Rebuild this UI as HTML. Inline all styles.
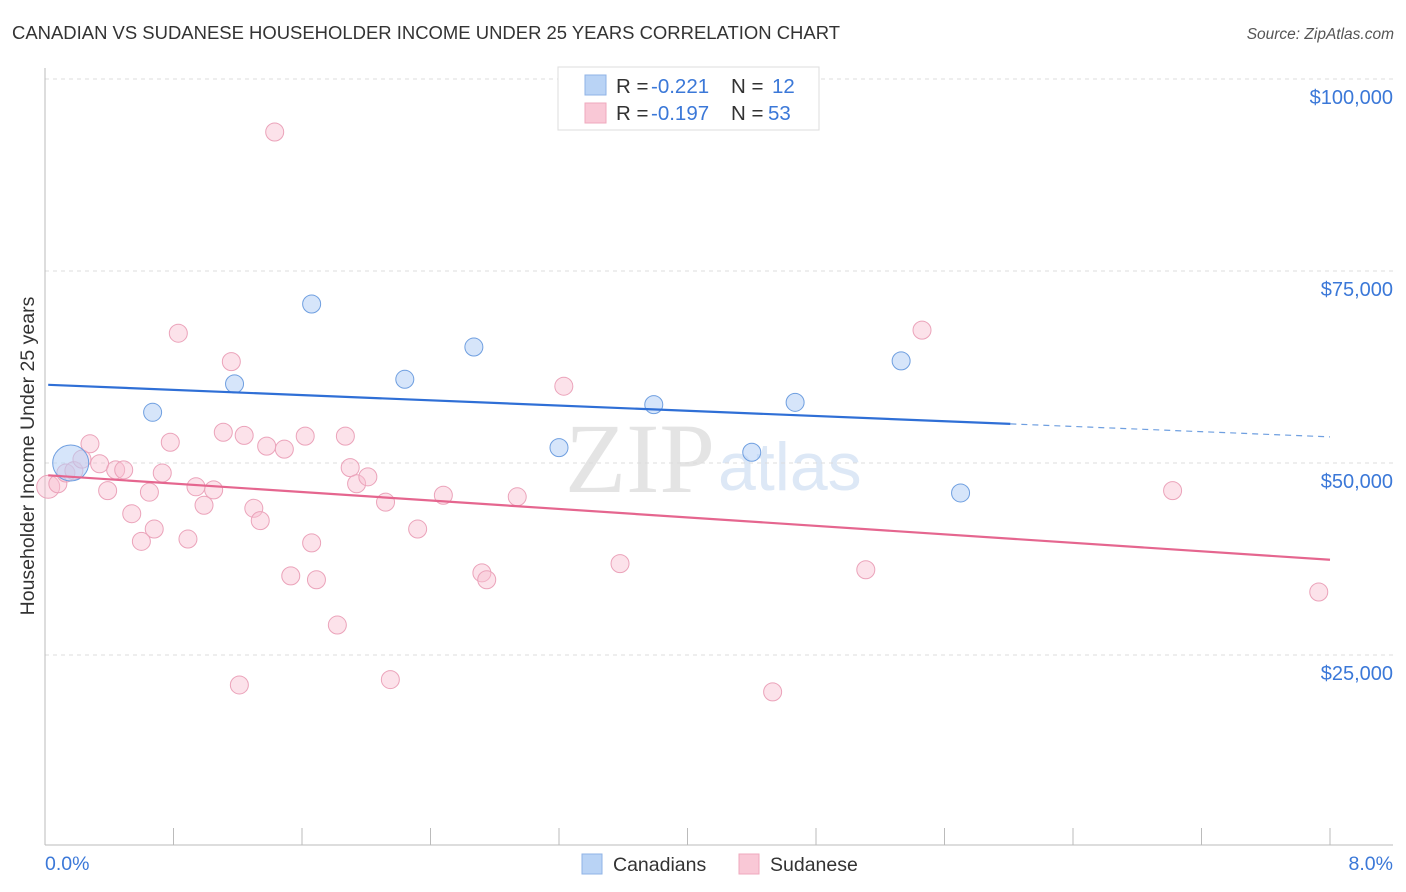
<!DOCTYPE html>
<html><head><meta charset="utf-8"><style>
body{margin:0;background:#fff;font-family:"Liberation Sans",sans-serif}
svg{display:block}
</style></head><body>
<svg width="1406" height="892" xmlns="http://www.w3.org/2000/svg" id="chart">
<text x="12" y="39" font-size="18.6" fill="#333" textLength="828" lengthAdjust="spacingAndGlyphs">CANADIAN VS SUDANESE HOUSEHOLDER INCOME UNDER 25 YEARS CORRELATION CHART</text>
<text x="1394" y="39" font-size="15.5" fill="#555" font-style="italic" text-anchor="end">Source: ZipAtlas.com</text>
<text x="715" y="492" font-size="100" fill="#e4e4e4" font-family="Liberation Serif,serif" text-anchor="end">ZIP</text>
<text x="718" y="490" font-size="68" fill="#dde8f6">atlas</text>
<g id="grid"></g>
<g id="axes"></g>
<g id="marks"></g>
<text transform="translate(34,456) rotate(-90)" font-size="19.5" fill="#333" text-anchor="middle">Householder Income Under 25 years</text>
<text x="45" y="870" font-size="19.5" fill="#3b78d8">0.0%</text>
<text x="1393" y="870" font-size="19.5" fill="#3b78d8" text-anchor="end">8.0%</text>
<g>
<rect x="558" y="67" width="261" height="63" fill="#fff" stroke="#ddd"/>
<rect x="585" y="75" width="21" height="20" fill="#b9d3f5" stroke="#8fb3e6"/>
<rect x="585" y="103" width="21" height="20" fill="#f9c8d6" stroke="#efa9bd"/>
<text x="616" y="93" font-size="20.5" fill="#333">R = <tspan x="651" fill="#3b78d8">-0.221</tspan><tspan x="731">N = </tspan><tspan x="772" fill="#3b78d8">12</tspan></text>
<text x="616" y="120" font-size="20.5" fill="#333">R = <tspan x="651" fill="#3b78d8">-0.197</tspan><tspan x="731">N = </tspan><tspan x="768" fill="#3b78d8">53</tspan></text>
</g>
<g>
<rect x="582" y="854" width="20" height="20" fill="#b9d3f5" stroke="#8fb3e6"/>
<text x="613" y="871" font-size="19.5" fill="#333">Canadians</text>
<rect x="739" y="854" width="20" height="20" fill="#f9c8d6" stroke="#efa9bd"/>
<text x="770" y="871" font-size="19.5" fill="#333">Sudanese</text>
</g>
</svg>
<script>
const yTicks=[100,75,50,25];
const yTickLabels=["$100,000","$75,000","$50,000","$25,000"];
const canX=[0.16,0.67,1.18,1.66,2.24,2.67,3.20,3.79,4.40,4.67,5.33,5.70];
const canY=[50.0,56.6,60.3,70.7,60.9,65.1,52.0,57.6,51.4,57.9,63.3,46.1];
const sudX=[0.02,0.08,0.13,0.18,0.23,0.28,0.34,0.39,0.44,0.49,0.54,0.60,0.65,0.68,0.73,0.78,0.83,0.89,0.94,0.99,1.05,1.16,1.11,1.21,1.24,1.30,1.34,1.38,1.43,1.49,1.53,1.62,1.66,1.69,1.82,1.87,1.90,1.94,2.01,2.12,2.15,2.32,2.48,2.72,2.75,2.94,3.23,3.58,4.53,5.11,5.46,7.02,7.93];
const sudY=[46.9,47.3,48.7,49.0,50.5,52.5,49.9,46.4,49.1,49.1,43.4,39.8,46.2,41.4,48.7,52.7,66.9,40.1,46.9,44.5,46.5,63.2,54.0,21.1,53.6,44.1,42.5,52.2,93.1,51.8,35.3,53.5,39.6,34.8,28.9,53.5,49.4,47.3,48.2,44.9,21.8,41.4,45.8,35.7,34.8,45.6,60.0,36.9,20.2,36.1,67.3,46.4,33.2];
const canTrend=[60.2,53.4];
const sudTrend=[48.4,37.4];
const canSolidEnd=6.01;

const NS="http://www.w3.org/2000/svg";
const sx=x=>45+x/8*1285;
const sy=v=>79+(100-v)/25*192;
function mk(tag,attrs,parent){const e=document.createElementNS(NS,tag);for(const k in attrs)e.setAttribute(k,attrs[k]);parent.appendChild(e);return e;}
const grid=document.getElementById('grid'),axes=document.getElementById('axes'),marks=document.getElementById('marks');
yTicks.forEach((t,i)=>{
 const l=mk('line',{x1:45,x2:1393,y1:sy(t),y2:sy(t),stroke:'#ddd','stroke-dasharray':'4,4'},grid);
 
 
 const tx=mk('text',{x:1393,y:sy(t)+25,'font-size':20,fill:'#3b78d8','text-anchor':'end'},grid);
 tx.textContent=yTickLabels[i];
 
 
});
const ya=mk('line',{x1:45,x2:45,y1:68,y2:845,stroke:'#bbb'},axes);


const xa=mk('line',{x1:45,x2:1393,y1:845,y2:845,stroke:'#bbb'},axes);


for(let i=1;i<=10;i++){
 const t=mk('line',{x1:sx(i*0.8),x2:sx(i*0.8),y1:828,y2:845,stroke:'#bbb'},axes);
 
 
}
sudX.forEach((x,i)=>{
 const c=mk('circle',{cx:sx(x),cy:sy(sudY[i]),r:i===0?11.5:9,fill:'rgba(248,190,208,0.45)',stroke:'#eba3ba','stroke-width':1},marks);
 
 
});
canX.forEach((x,i)=>{
 const c=mk('circle',{cx:sx(x),cy:sy(canY[i]),r:i===0?18:9,fill:'rgba(180,208,245,0.55)',stroke:'#6f9fe0','stroke-width':1},marks);
 
 
});
const cv=x=>canTrend[0]+(canTrend[1]-canTrend[0])*x/8;
const l1=mk('line',{x1:sx(0.02),y1:sy(cv(0.02)),x2:sx(canSolidEnd),y2:sy(cv(canSolidEnd)),stroke:'#2f6fd6','stroke-width':2.2},marks);


const l2=mk('line',{x1:sx(canSolidEnd),y1:sy(cv(canSolidEnd)),x2:sx(8),y2:sy(cv(8)),stroke:'#6f9fe0','stroke-width':1.2,'stroke-dasharray':'6,5'},marks);


const l3=mk('line',{x1:sx(0.02),y1:sy(sudTrend[0]),x2:sx(8),y2:sy(sudTrend[1]),stroke:'#e5668f','stroke-width':2.2},marks);


</script>
</body></html>
